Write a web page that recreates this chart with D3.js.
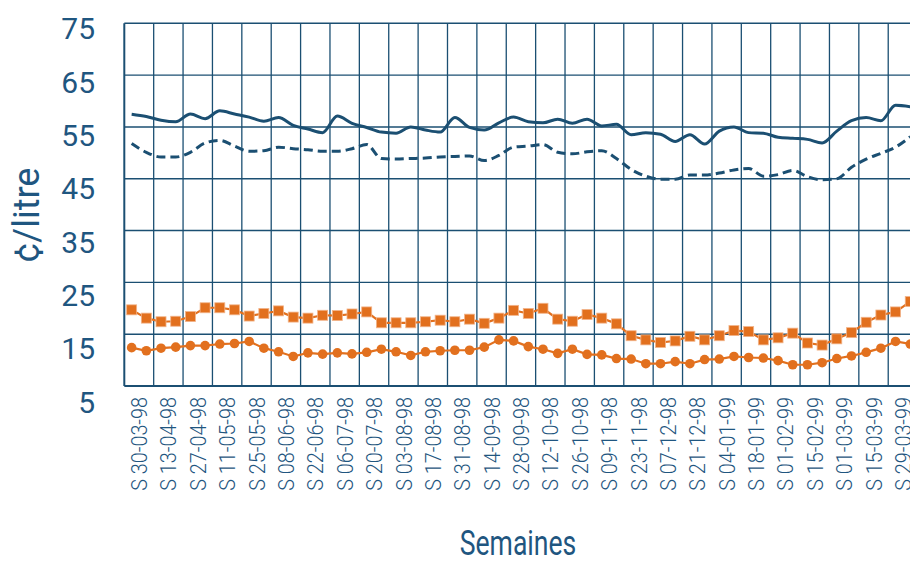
<!DOCTYPE html>
<html>
<head>
<meta charset="utf-8">
<script src="https://cdn.jsdelivr.net/npm/d3@7/dist/d3.min.js"></script>
<style>
  html, body { margin: 0; padding: 0; background: #ffffff; }
  svg { display: block; }
  text { font-family: Roboto, "Noto Sans", "DejaVu Sans", sans-serif; fill: #1f5680; }
</style>
</head>
<body>
<svg id="chart" width="910" height="561"></svg>
<script>
// Bi-weekly category labels (each covers two weekly observations)
const weekLabels = [
  "S 30-03-98", "S 13-04-98", "S 27-04-98", "S 11-05-98", "S 25-05-98",
  "S 08-06-98", "S 22-06-98", "S 06-07-98", "S 20-07-98", "S 03-08-98",
  "S 17-08-98", "S 31-08-98", "S 14-09-98", "S 28-09-98", "S 12-10-98",
  "S 26-10-98", "S 09-11-98", "S 23-11-98", "S 07-12-98", "S 21-12-98",
  "S 04-01-99", "S 18-01-99", "S 01-02-99", "S 15-02-99", "S 01-03-99",
  "S 15-03-99", "S 29-03-99"
];

// Y axis ticks (¢/litre)
const yTicks = [5, 15, 25, 35, 45, 55, 65, 75];

// Weekly series, ¢/litre
const prixA = [
  57.45, 57.0, 56.3, 56.0, 57.5, 56.6, 58.1, 57.5, 56.9, 56.1, 56.8, 55.3, 54.6,
  53.9, 57.1, 55.7, 54.9, 54.0, 53.8, 55.0, 54.4, 54.0, 56.8, 54.9, 54.4, 55.8,
  56.9, 56.0, 55.8, 56.5, 55.7, 56.5, 55.2,
  55.5, 53.5, 53.9, 53.6, 52.2, 53.5, 51.7, 54.2, 55.0, 53.9, 53.8, 53.0, 52.8,
  52.6, 51.9, 54.2, 56.2, 56.8, 56.2, 59.2, 58.9
];
const prixB = [
  51.8, 50.1, 49.2, 49.2, 50.1, 51.9, 52.4, 51.3, 50.3, 50.4, 51.1, 50.8, 50.6,
  50.3, 50.3, 50.8, 51.6, 48.9, 48.8, 48.9, 49.0, 49.2, 49.3, 49.4, 48.5, 49.5,
  51.1, 51.3, 51.6, 50.1, 49.8, 50.2, 50.4,
  48.9, 46.8, 45.5, 44.9, 44.9, 45.7, 45.7, 46.1, 46.7, 47.0, 45.5, 45.8, 46.6,
  45.4, 44.8, 45.0, 47.2, 48.8, 49.9, 51.1, 53.1
];
const margeA = [
  19.7, 18.1, 17.4, 17.5, 18.4, 20.1, 20.1, 19.7, 18.5, 19.0, 19.5, 18.3, 18.1, 18.65,
  18.6, 18.9, 19.3, 17.2, 17.2, 17.2, 17.4, 17.7, 17.4, 17.9, 17.1, 18.1, 19.6,
  19.0, 20.0, 17.9, 17.5, 18.8, 18.1, 17.0, 14.7, 13.9, 13.4, 13.7, 14.6, 13.9,
  14.7, 15.7, 15.5, 13.9, 14.3, 15.2, 13.3, 12.9, 14.1, 15.3, 17.3, 18.7, 19.3, 21.3
];
const margeB = [
  12.4, 11.8, 12.3, 12.5, 12.8, 12.8, 13.1, 13.2, 13.6, 12.3, 11.6, 10.7, 11.4, 11.15,
  11.4, 11.2, 11.5, 12.1, 11.6, 10.9, 11.6, 11.8, 11.9, 11.9, 12.5, 13.9, 13.7,
  12.6, 12.1, 11.3, 12.1, 11.1, 11.0, 10.3, 10.2, 9.3, 9.3, 9.7, 9.3, 10.1,
  10.2, 10.7, 10.5, 10.4, 9.9, 9.1, 9.1, 9.5, 10.3, 10.8, 11.5, 12.3, 13.6, 13.1
];

const BLUE = "#1b4f72";
const ORANGE = "#e2701e";

const svg = d3.select("#chart");

const plot = { left: 124.3, top: 23.3, bottom: 386, right: 917.6 };
const nWeeks = prixA.length;

// Week index -> x; each label band spans two weeks
const x = d3.scaleLinear().domain([-0.5, nWeeks - 0.5]).range([plot.left, plot.right]);
const y = d3.scaleLinear().domain([5, 75]).range([plot.bottom, plot.top]);
// Tick label column is laid out a little taller than the grid
const yLabel = d3.scaleLinear().domain([5, 75]).range([402.5, 29.2]);

const grid = svg.append("g").attr("stroke", BLUE).attr("fill", "none");

// Horizontal grid lines
grid.selectAll("line.h")
  .data(yTicks.filter(v => v > 5))
  .join("line")
  .attr("x1", plot.left).attr("x2", 910)
  .attr("y1", d => y(d)).attr("y2", d => y(d))
  .attr("stroke-width", 1.4);

// Vertical grid lines at band boundaries
grid.selectAll("line.v")
  .data(d3.range(1, weekLabels.length))
  .join("line")
  .attr("x1", k => x(2 * k - 0.5)).attr("x2", k => x(2 * k - 0.5))
  .attr("y1", plot.top).attr("y2", plot.bottom)
  .attr("stroke-width", 1.3);

// Axis lines
grid.append("line")
  .attr("x1", plot.left).attr("x2", plot.left)
  .attr("y1", plot.top).attr("y2", plot.bottom)
  .attr("stroke-width", 2);
grid.append("line")
  .attr("x1", plot.left).attr("x2", 910)
  .attr("y1", y(5)).attr("y2", y(5))
  .attr("stroke-width", 2);

// Y tick labels
const yAxis = svg.append("g")
  .attr("transform", "translate(95,0)")
  .call(d3.axisLeft(yLabel).tickValues(yTicks).tickSize(0).tickPadding(0));
yAxis.select(".domain").remove();
yAxis.selectAll("text")
  .attr("font-size", 30)
  .attr("font-family", "Roboto, sans-serif")
  .attr("fill", "#1f5680");

// X tick labels (rotated, narrow lettering)
svg.append("g").selectAll("text")
  .data(weekLabels)
  .join("text")
  .attr("transform", (d, k) => `translate(${x(2 * k + 0.5)},397) rotate(-90) scale(0.88,1)`)
  .attr("text-anchor", "end")
  .attr("dy", "0.36em")
  .attr("font-size", 22.5)
  .attr("font-weight", 300)
  .text(d => d);

// Axis titles
svg.append("text")
  .attr("transform", "translate(39,215) rotate(-90)")
  .attr("text-anchor", "middle")
  .attr("font-size", 36)
  .text("¢/litre");

svg.append("text")
  .attr("transform", "translate(518,555) scale(0.76,1)")
  .attr("text-anchor", "middle")
  .attr("font-size", 35)
  .text("Semaines");

// Smooth blue price lines
const smooth = d3.line()
  .x((d, i) => x(i))
  .y(d => y(d))
  .curve(d3.curveMonotoneX);

svg.append("path")
  .datum(prixA)
  .attr("d", smooth)
  .attr("fill", "none")
  .attr("stroke", BLUE)
  .attr("stroke-width", 3);

svg.append("path")
  .datum(prixB)
  .attr("d", smooth)
  .attr("fill", "none")
  .attr("stroke", BLUE)
  .attr("stroke-width", 3)
  .attr("stroke-dasharray", "9,5");

// Orange margin series with markers
const straight = d3.line()
  .x((d, i) => x(i))
  .y(d => y(d));

svg.append("path")
  .datum(margeA)
  .attr("d", straight)
  .attr("fill", "none")
  .attr("stroke", ORANGE)
  .attr("stroke-width", 2.2);

svg.append("g").selectAll("rect")
  .data(margeA)
  .join("rect")
  .attr("x", (d, i) => x(i) - 5)
  .attr("y", d => y(d) - 5)
  .attr("width", 10)
  .attr("height", 10)
  .attr("fill", ORANGE)
  .attr("stroke", "#f2b48a")
  .attr("stroke-width", 0.8);

svg.append("path")
  .datum(margeB)
  .attr("d", straight)
  .attr("fill", "none")
  .attr("stroke", ORANGE)
  .attr("stroke-width", 2.2);

svg.append("g").selectAll("circle")
  .data(margeB)
  .join("circle")
  .attr("cx", (d, i) => x(i))
  .attr("cy", d => y(d))
  .attr("r", 4.8)
  .attr("fill", ORANGE);
</script>
</body>
</html>
